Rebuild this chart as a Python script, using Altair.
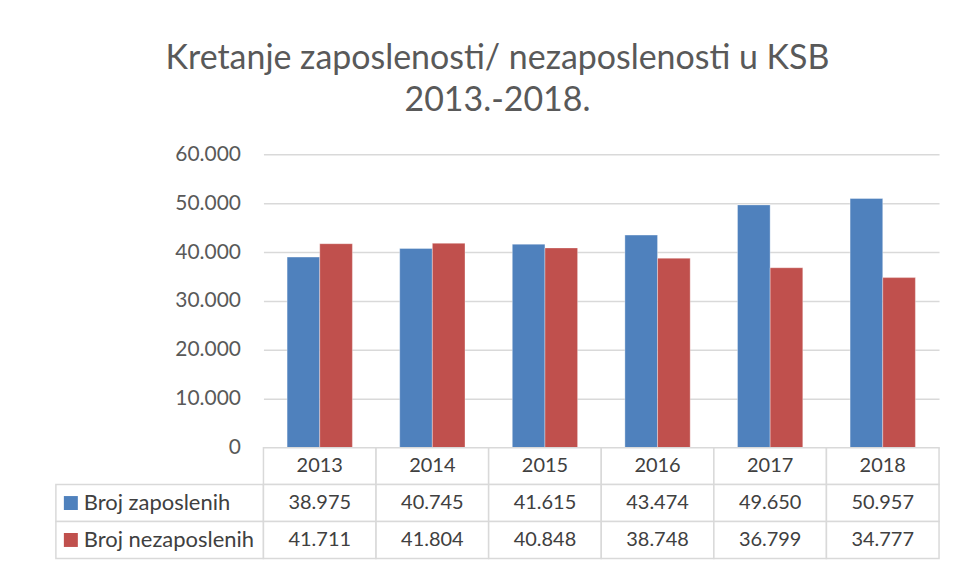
import altair as alt
import pandas as pd

years = ["2013", "2014", "2015", "2016", "2017", "2018"]
series = ["Broj zaposlenih", "Broj nezaposlenih"]
zaposleni = [38975, 40745, 41615, 43474, 49650, 50957]
nezaposleni = [41711, 41804, 40848, 38748, 36799, 34777]
colors = ["#4F81BD", "#C0504D"]
title_lines = ["Kretanje zaposlenosti/ nezaposlenosti u KSB", "2013.-2018."]

FONT = "Lato"
GRID = "#d9d9d9"
TXT = "#595959"

rows = []
for i, y in enumerate(years):
    rows.append({"year": y, "series": series[0], "value": zaposleni[i]})
    rows.append({"year": y, "series": series[1], "value": nezaposleni[i]})
bars_df = pd.DataFrame(rows)

row_keys = ["hdr"] + series

table_rows = []
for i, y in enumerate(years):
    table_rows.append({"year": y, "row": "hdr", "txt": y, "v": None})
    table_rows.append({"year": y, "row": series[0], "txt": None, "v": zaposleni[i]})
    table_rows.append({"year": y, "row": series[1], "txt": None, "v": nezaposleni[i]})
table_df = pd.DataFrame(table_rows)

label_df = pd.DataFrame({"row": series, "c": ["a", "a"]})

W_LAB, W_PLOT, H_PLOT, H_TAB = 208, 677, 294, 111

x_band = alt.Scale(domain=years, paddingInner=0.42, paddingOuter=0.21)
x_cells = alt.Scale(domain=years, paddingInner=0, paddingOuter=0)
y_rows = alt.Scale(domain=row_keys, paddingInner=0, paddingOuter=0)
col_scale = alt.Scale(domain=series, range=colors)

spacer = alt.Chart(pd.DataFrame({"t": [""]})).mark_text().encode(
    text="t:N"
).properties(width=W_LAB, height=H_PLOT)

bars = alt.Chart(bars_df).mark_bar(stroke="white", strokeOpacity=0.35, strokeWidth=1).encode(
    x=alt.X("year:N", scale=x_band, axis=None),
    xOffset=alt.XOffset("series:N", scale=alt.Scale(domain=series, paddingInner=0, paddingOuter=0)),
    y=alt.Y("value:Q", scale=alt.Scale(domain=[0, 60000], nice=False),
            axis=alt.Axis(values=[0, 10000, 20000, 30000, 40000, 50000, 60000],
                          labelExpr="replace(format(datum.value, ','), ',', '.')",
                          title=None, domain=False, ticks=False, grid=True,
                          gridColor=GRID, gridWidth=1.5, labelPadding=23,
                          labelFontSize=21, labelColor=TXT, labelFont=FONT)),
    color=alt.Color("series:N", scale=col_scale, legend=None),
).properties(width=W_PLOT, height=H_PLOT)

labels_base = alt.Chart(label_df).encode(
    y=alt.Y("row:N", scale=y_rows, axis=None),
)
lab_cells = labels_base.mark_rect(fill="white", stroke=GRID, strokeWidth=1.5).encode(
    x=alt.X("c:N", axis=None, scale=alt.Scale(paddingInner=0, paddingOuter=0)),
)
lab_sq = labels_base.mark_square(size=196, opacity=1, xOffset=15).encode(
    x=alt.X("c:N", axis=None, bandPosition=0, scale=alt.Scale(paddingInner=0, paddingOuter=0)),
    color=alt.Color("row:N", scale=col_scale, legend=None),
)
lab_txt = labels_base.mark_text(align="left", dx=28, fontSize=22, font=FONT, color="#404040").encode(
    x=alt.X("c:N", axis=None, bandPosition=0, scale=alt.Scale(paddingInner=0, paddingOuter=0)),
    text="row:N",
)
labels = alt.layer(lab_cells, lab_sq, lab_txt).properties(width=W_LAB, height=H_TAB)

tab_base = alt.Chart(table_df).transform_calculate(
    label="datum.row == 'hdr' ? datum.txt : replace(format(datum.v, ','), ',', '.')"
).encode(
    x=alt.X("year:N", scale=x_cells, axis=None),
    y=alt.Y("row:N", scale=y_rows, axis=None),
)
tab_cells = tab_base.mark_rect(fill="white", stroke=GRID, strokeWidth=1.5)
tab_txt = tab_base.mark_text(fontSize=20, font=FONT, color="#404040").encode(text="label:N")
table = alt.layer(tab_cells, tab_txt).properties(width=W_PLOT, height=H_TAB)

chart = alt.concat(spacer, bars, labels, table, columns=2, spacing=0).properties(
    bounds="flush",
    align="each",
    background="white",
    padding={"left": 55, "right": 18, "top": 42, "bottom": 8},
    title=alt.TitleParams(title_lines, fontSize=34, font=FONT, fontWeight="normal",
                          color=TXT, anchor="middle", lineHeight=42, offset=25),
).configure_view(strokeWidth=0, stroke="transparent")

chart.save("out.html", embed_options={"renderer": "svg", "actions": False})
